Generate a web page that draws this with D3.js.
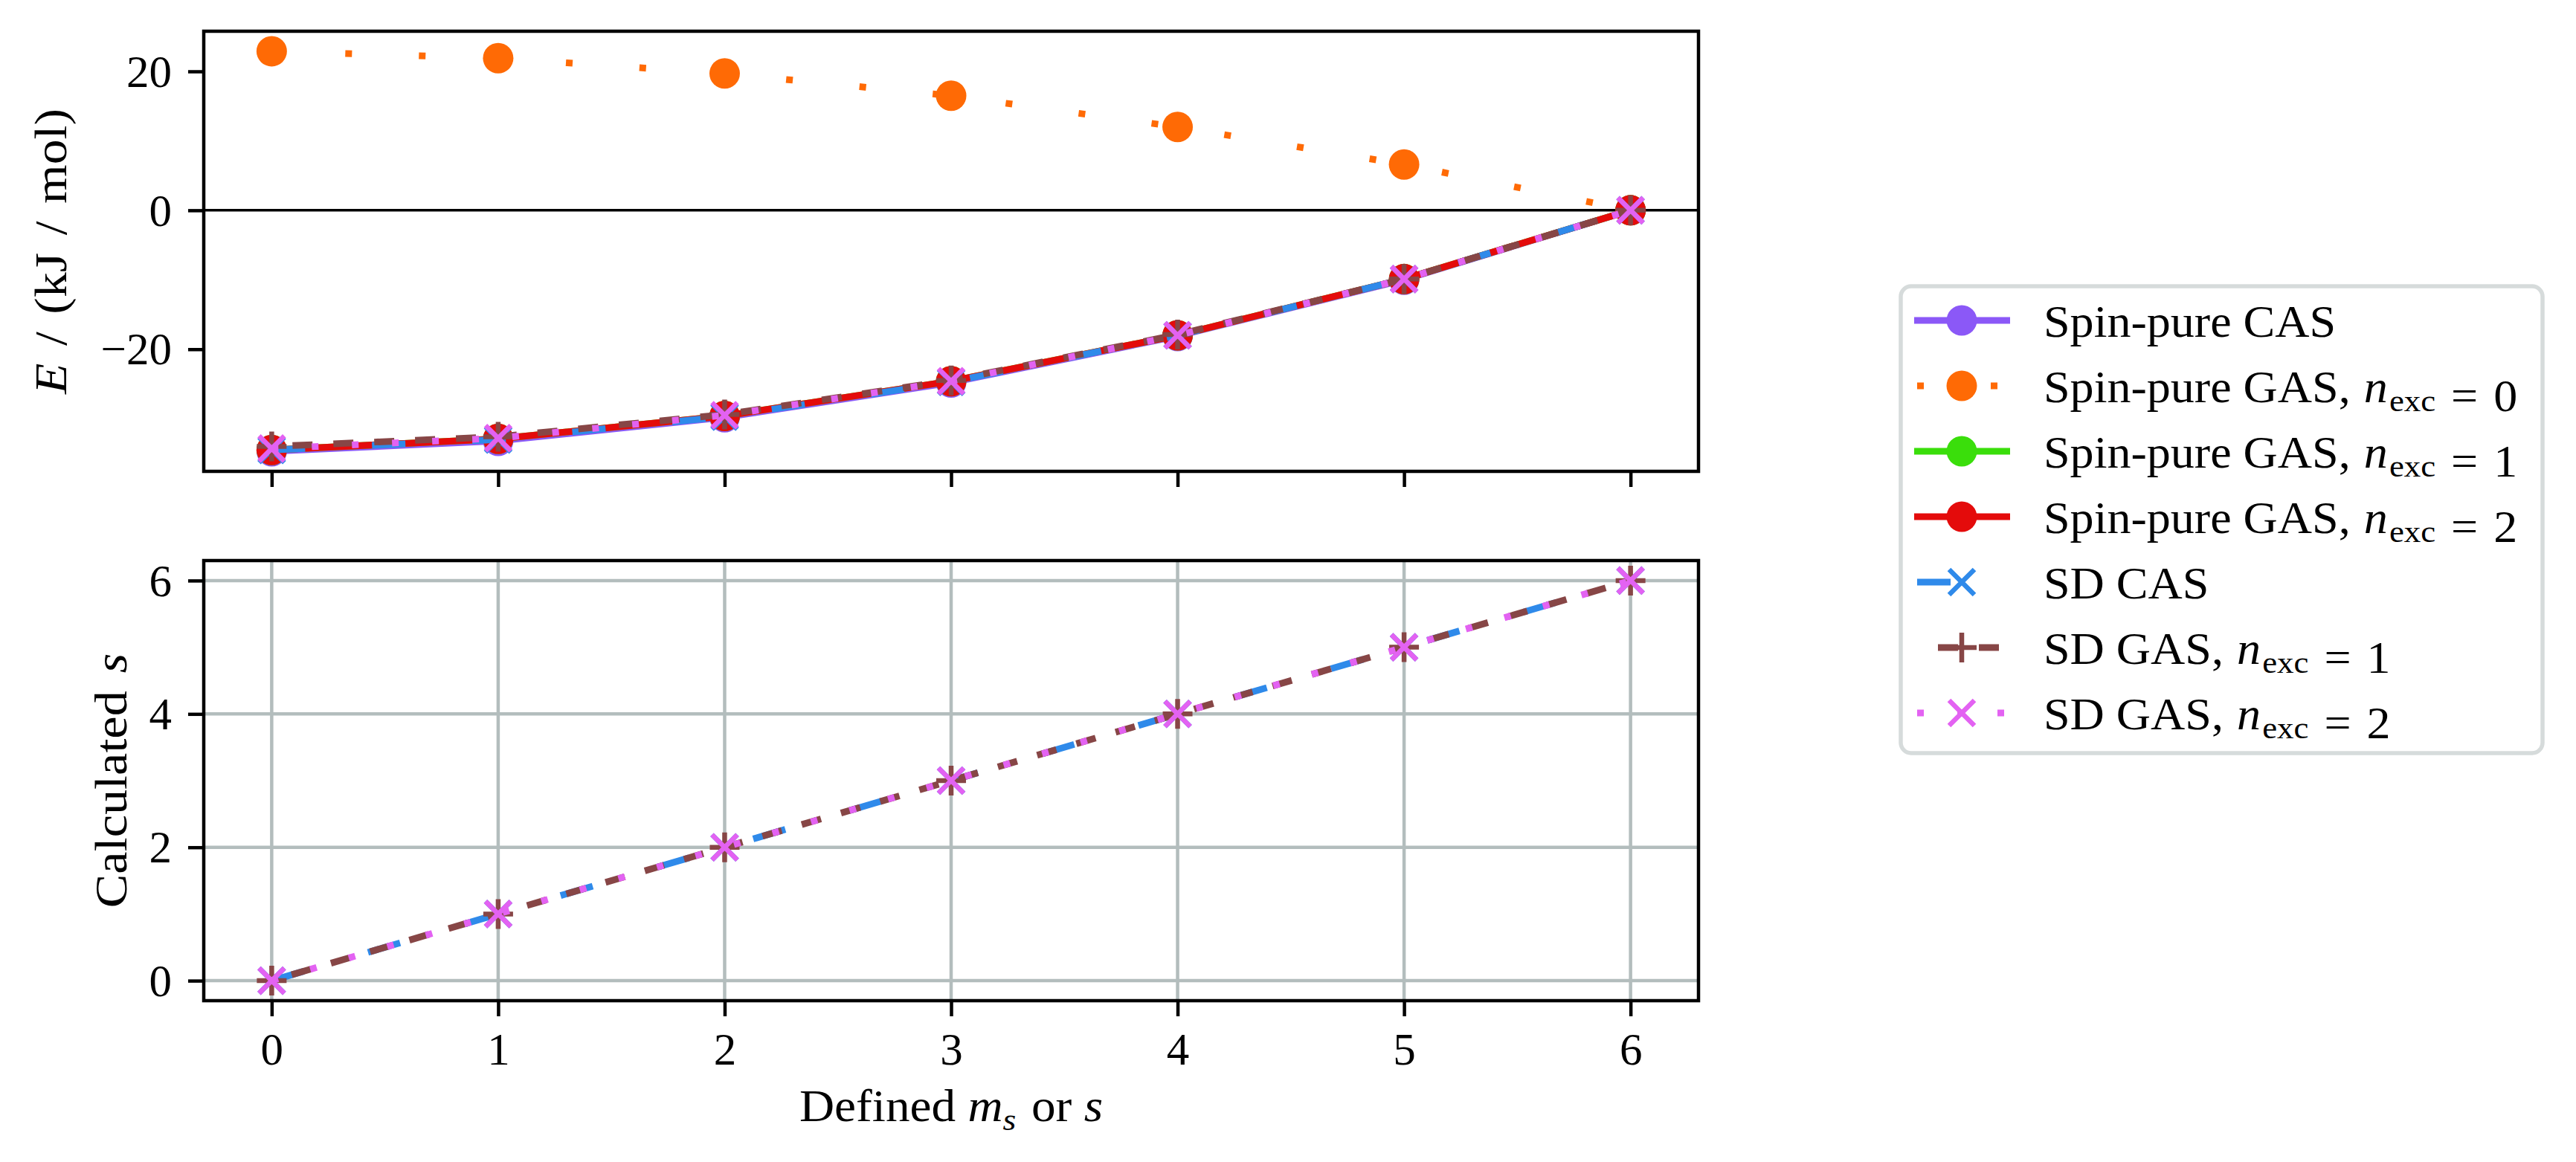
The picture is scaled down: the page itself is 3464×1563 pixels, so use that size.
<!DOCTYPE html>
<html>
<head>
<meta charset="utf-8">
<script src="https://cdn.jsdelivr.net/npm/d3@7"></script>
<style>
  body { margin: 0; background: #fff; }
  text { font-family: "Liberation Serif", "DejaVu Serif", serif; fill: #000; }
</style>
</head>
<body>
<svg width="3464" height="1563"></svg>
<script>
// defined m_s (or s) on the shared x axis
var definedMs = [0, 1, 2, 3, 4, 5, 6];

// top panel: energies in kJ/mol
var spinPureCAS  = [-34.7, -33.2, -29.8, -24.8, -18.1, -10.0, 0];
var spinPureGAS0 = [22.9, 21.9, 19.7, 16.5, 12.0, 6.6, 0];
var spinPureGAS1 = [-34.5, -32.9, -29.6, -24.6, -18.0, -9.9, 0];
var spinPureGAS2 = [-34.5, -32.9, -29.6, -24.6, -18.0, -9.9, 0];
var sdCAS        = [-34.5, -33.0, -29.7, -24.7, -18.0, -9.9, 0];
var sdGAS1       = [-34.0, -32.6, -29.4, -24.5, -17.9, -9.9, 0];
var sdGAS2       = [-34.3, -32.8, -29.5, -24.6, -18.0, -9.9, 0];

// bottom panel: calculated s
var sdCASs  = [0, 1, 2, 3, 4, 5, 6];
var sdGAS1s = [0, 1, 2, 3, 4, 5, 6];
var sdGAS2s = [0, 1, 2, 3, 4, 5, 6];

var topTicks = [-20, 0, 20];
var botTicks = [0, 2, 4, 6];

var legendNames = ["Spin-pure CAS", "Spin-pure GAS, ", "Spin-pure GAS, ", "Spin-pure GAS, ", "SD CAS", "SD GAS, ", "SD GAS, "];
var legendNexc  = [null, 0, 1, 2, null, 1, 2];

var svg = d3.select("svg");
var left = 274, right = 2284;
var topBox = {top: 42, bottom: 634};
var botBox = {top: 754, bottom: 1346};
var fs = 61;

// matplotlib-like 5% margins
function padded(ext) {
    var p = 0.05 * (ext[1] - ext[0]);
    return [ext[0] - p, ext[1] + p];
}

var x = d3.scaleLinear().domain(padded(d3.extent(definedMs))).range([left, right]);
var yTop = d3.scaleLinear()
    .domain(padded(d3.extent([].concat(spinPureCAS, spinPureGAS0, spinPureGAS1, spinPureGAS2, sdCAS, sdGAS1, sdGAS2))))
    .range([topBox.bottom, topBox.top]);
var yBot = d3.scaleLinear()
    .domain(padded(d3.extent([].concat(sdCASs, sdGAS1s, sdGAS2s))))
    .range([botBox.bottom, botBox.top]);

var styles = {
    spCAS:  {color: "#8b58f7", dash: null, offset: 0, marker: "o"},
    spGAS0: {color: "#ff6a05", dash: "9 90", offset: 0, marker: "o"},
    spGAS1: {color: "#3ade0b", dash: null, offset: 0, marker: "o"},
    spGAS2: {color: "#e40b0b", dash: null, offset: 0, marker: "o"},
    sdCAS:  {color: "#2f8aea", dash: "45 90", offset: 0, marker: "x"},
    sdGAS1: {color: "#874646", dash: "27 28", offset: 27, marker: "+"},
    sdGAS2: {color: "#e362f2", dash: "9 45", offset: 0, marker: "x"}
};
var legendKeys = ["spCAS", "spGAS0", "spGAS1", "spGAS2", "sdCAS", "sdGAS1", "sdGAS2"];
var lw = 9;

function drawMarker(g, type, color, cx, cy) {
    if (type === "o") {
        g.append("circle").attr("cx", cx).attr("cy", cy).attr("r", 20.5).attr("fill", color);
    } else if (type === "x") {
        var s = 17;
        g.append("path")
            .attr("d", "M" + (cx - s) + "," + (cy - s) + "L" + (cx + s) + "," + (cy + s) +
                       "M" + (cx - s) + "," + (cy + s) + "L" + (cx + s) + "," + (cy - s))
            .attr("stroke", color).attr("stroke-width", 6.5).attr("fill", "none");
    } else if (type === "+") {
        var p = 20;
        g.append("path")
            .attr("d", "M" + (cx - p) + "," + cy + "L" + (cx + p) + "," + cy +
                       "M" + cx + "," + (cy - p) + "L" + cx + "," + (cy + p))
            .attr("stroke", color).attr("stroke-width", 6.5).attr("fill", "none");
    }
}

function drawSeries(g, yScale, values, st) {
    var line = d3.line()
        .x(function(d, i) { return x(definedMs[i]); })
        .y(function(d) { return yScale(d); });
    g.append("path")
        .datum(values)
        .attr("fill", "none")
        .attr("stroke", st.color)
        .attr("stroke-width", lw)
        .attr("stroke-dasharray", st.dash)
        .attr("stroke-dashoffset", st.offset)
        .attr("stroke-linejoin", "round")
        .attr("d", line);
    values.forEach(function(v, i) {
        drawMarker(g, st.marker, st.color, x(definedMs[i]), yScale(v));
    });
}

function styleAxis(ax) {
    ax.select(".domain").remove();
    ax.selectAll(".tick line").attr("stroke", "#000").attr("stroke-width", 4.5);
    ax.selectAll(".tick text").attr("font-size", fs).attr("font-family", null);
}

var minus = function(d) { return d < 0 ? "\u2212" + Math.abs(d) : String(d); };

// " = k" with TeX-like spacing round the equals sign
function appendEquals(t, val) {
    t.append("tspan").attr("dx", 20).text("=");
    t.append("tspan").attr("dx", 20).text(val);
}

// ---------- top panel ----------
var gTop = svg.append("g");
gTop.append("line")
    .attr("x1", left).attr("x2", right)
    .attr("y1", yTop(0)).attr("y2", yTop(0))
    .attr("stroke", "#000").attr("stroke-width", 3.5);

drawSeries(gTop, yTop, spinPureCAS, styles.spCAS);
drawSeries(gTop, yTop, spinPureGAS0, styles.spGAS0);
drawSeries(gTop, yTop, spinPureGAS1, styles.spGAS1);
drawSeries(gTop, yTop, spinPureGAS2, styles.spGAS2);
drawSeries(gTop, yTop, sdCAS, styles.sdCAS);
drawSeries(gTop, yTop, sdGAS1, styles.sdGAS1);
drawSeries(gTop, yTop, sdGAS2, styles.sdGAS2);

gTop.append("rect")
    .attr("x", left).attr("y", topBox.top)
    .attr("width", right - left).attr("height", topBox.bottom - topBox.top)
    .attr("fill", "none").attr("stroke", "#000").attr("stroke-width", 4.5);

var axTopY = svg.append("g").attr("transform", "translate(" + left + ",0)")
    .call(d3.axisLeft(yTop).tickValues(topTicks).tickSize(21).tickPadding(22).tickFormat(minus));
styleAxis(axTopY);
axTopY.selectAll(".tick text").attr("dy", "0.33em");

var axTopX = svg.append("g").attr("transform", "translate(0," + topBox.bottom + ")")
    .call(d3.axisBottom(x).tickValues(definedMs).tickSize(21).tickFormat(""));
styleAxis(axTopX);

var yLabTop = svg.append("text")
    .attr("transform", "translate(89," + ((topBox.top + topBox.bottom) / 2) + ") rotate(-90) scale(1.11,1)")
    .attr("text-anchor", "middle").attr("font-size", fs)
    .attr("word-spacing", 6);
yLabTop.append("tspan").attr("font-style", "italic").text("E");
yLabTop.append("tspan").text(" / (kJ / mol)");

// ---------- bottom panel ----------
var gBot = svg.append("g");
gBot.selectAll(".vgrid").data(definedMs).enter().append("line")
    .attr("x1", function(d) { return x(d); }).attr("x2", function(d) { return x(d); })
    .attr("y1", botBox.top).attr("y2", botBox.bottom)
    .attr("stroke", "#b3bdbd").attr("stroke-width", 4.5);
gBot.selectAll(".hgrid").data(botTicks).enter().append("line")
    .attr("x1", left).attr("x2", right)
    .attr("y1", function(d) { return yBot(d); }).attr("y2", function(d) { return yBot(d); })
    .attr("stroke", "#b3bdbd").attr("stroke-width", 4.5);

drawSeries(gBot, yBot, sdCASs, styles.sdCAS);
drawSeries(gBot, yBot, sdGAS1s, styles.sdGAS1);
drawSeries(gBot, yBot, sdGAS2s, styles.sdGAS2);

gBot.append("rect")
    .attr("x", left).attr("y", botBox.top)
    .attr("width", right - left).attr("height", botBox.bottom - botBox.top)
    .attr("fill", "none").attr("stroke", "#000").attr("stroke-width", 4.5);

var axBotY = svg.append("g").attr("transform", "translate(" + left + ",0)")
    .call(d3.axisLeft(yBot).tickValues(botTicks).tickSize(21).tickPadding(22).tickFormat(minus));
styleAxis(axBotY);
axBotY.selectAll(".tick text").attr("dy", "0.33em");

var axBotX = svg.append("g").attr("transform", "translate(0," + botBox.bottom + ")")
    .call(d3.axisBottom(x).tickValues(definedMs).tickSize(21).tickPadding(22).tickFormat(minus));
styleAxis(axBotX);
axBotX.selectAll(".tick text").attr("dy", null).attr("y", 86);

var yLabBot = svg.append("text")
    .attr("transform", "translate(170," + ((botBox.top + botBox.bottom) / 2) + ") rotate(-90) scale(1.12,1)")
    .attr("text-anchor", "middle").attr("font-size", fs);
yLabBot.append("tspan").text("Calculated ");
yLabBot.append("tspan").attr("dx", 6).attr("font-style", "italic").text("s");

var xLab = svg.append("text")
    .attr("transform", "translate(" + ((left + right) / 2) + ",1508) scale(1.07,1)")
    .attr("text-anchor", "middle").attr("font-size", fs);
xLab.append("tspan").text("Defined ");
xLab.append("tspan").attr("font-style", "italic").text("m");
xLab.append("tspan").attr("font-style", "italic").attr("font-size", fs * 0.7).attr("dy", 12).text("s");
xLab.append("tspan").attr("dy", -12).attr("dx", 4).text(" or ");
xLab.append("tspan").attr("font-style", "italic").text("s");

// ---------- legend ----------
var leg = svg.append("g");
leg.append("rect")
    .attr("x", 2556).attr("y", 385)
    .attr("width", 3419 - 2556).attr("height", 1013 - 385)
    .attr("rx", 14).attr("ry", 14)
    .attr("fill", "#fff").attr("stroke", "#d6dbdb").attr("stroke-width", 5.5);

legendKeys.forEach(function(k, i) {
    var st = styles[k];
    var cy = 431 + i * 88;
    var x0 = st.dash ? 2578 : 2574;
    leg.append("line")
        .attr("x1", x0).attr("x2", 2703).attr("y1", cy).attr("y2", cy)
        .attr("stroke", st.color).attr("stroke-width", lw)
        .attr("stroke-dasharray", st.dash).attr("stroke-dashoffset", st.offset);
    drawMarker(leg, st.marker, st.color, 2638, cy);

    var t = leg.append("text")
        .attr("transform", "translate(2748," + (cy + 22) + ") scale(1.05,1)")
        .attr("font-size", fs);
    t.append("tspan").text(legendNames[i]);
    if (legendNexc[i] !== null) {
        t.append("tspan").attr("font-style", "italic").attr("dx", 2).text("n");
        t.append("tspan").attr("font-size", fs * 0.7).attr("dy", 12).attr("dx", 2).text("exc");
        t.append("tspan").attr("dy", -12).text("");
        appendEquals(t, legendNexc[i]);
    }
});
</script>
</body>
</html>
